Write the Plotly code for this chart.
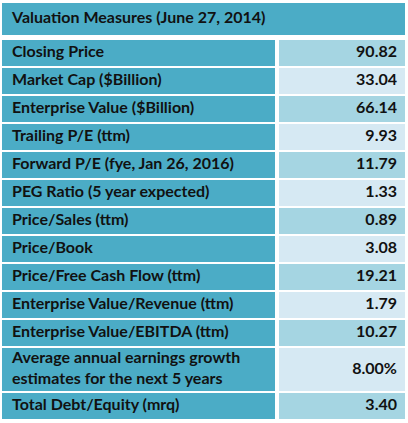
import plotly.graph_objects as go

title = "Valuation Measures (June 27, 2014)"
metrics = [
    "Closing Price",
    "Market Cap ($Billion)",
    "Enterprise Value ($Billion)",
    "Trailing P/E (ttm)",
    "Forward P/E (fye, Jan 26, 2016)",
    "PEG Ratio (5 year expected)",
    "Price/Sales (ttm)",
    "Price/Book",
    "Price/Free Cash Flow (ttm)",
    "Enterprise Value/Revenue (ttm)",
    "Enterprise Value/EBITDA (ttm)",
    "Average annual earnings growth<br>estimates for the next 5 years",
    "Total Debt/Equity (mrq)",
]
values = ["90.82", "33.04", "66.14", "9.93", "11.79", "1.33", "0.89",
          "3.08", "19.21", "1.79", "10.27", "8.00%", "3.40"]

# ---- styling / layout constants (pixel-like units) ----
TEAL = "#4BACC6"
BAND_A = "#A5D5E2"
BAND_B = "#D6E9F3"
FONT = "Lato"
TXT = "#111111"
FS = 16

TOTAL_W = 403
LEFT_W = 273
COL_GAP = 4
RIGHT_X0 = LEFT_W + COL_GAP
RIGHT_W = TOTAL_W - RIGHT_X0
HEADER_H = 32
HEADER_GAP = 5
ROW_GAP = 2
ONE_LINE_H = 26
EXTRA_LINE_H = 17
PAD_L = 10
PAD_R = 8

# row geometry derived from line counts
row_h = [ONE_LINE_H + EXTRA_LINE_H * m.count("<br>") for m in metrics]
row_top = []
y = HEADER_H + HEADER_GAP
for h in row_h:
    row_top.append(y)
    y += h + ROW_GAP
row_mid = [t + h / 2 for t, h in zip(row_top, row_h)]
right_fill = [BAND_A if i % 2 == 0 else BAND_B for i in range(len(values))]

fig = go.Figure()
# header band
fig.add_trace(go.Bar(
    orientation="h", y=[HEADER_H / 2], x=[TOTAL_W], base=[0], width=[HEADER_H],
    marker=dict(color=TEAL, line=dict(width=0)), hoverinfo="skip", showlegend=False,
))
# left column bands
fig.add_trace(go.Bar(
    orientation="h", y=row_mid, x=[LEFT_W] * len(metrics), base=[0] * len(metrics),
    width=row_h, marker=dict(color=TEAL, line=dict(width=0)),
    hoverinfo="skip", showlegend=False,
))
# right column bands
fig.add_trace(go.Bar(
    orientation="h", y=row_mid, x=[RIGHT_W] * len(values), base=[RIGHT_X0] * len(values),
    width=row_h, marker=dict(color=right_fill, line=dict(width=0)),
    hoverinfo="skip", showlegend=False,
))
# header text
fig.add_trace(go.Scatter(
    x=[PAD_L], y=[HEADER_H / 2], mode="text", text=["<b>" + title + "</b>"],
    textposition="middle right", textfont=dict(family=FONT, size=FS, color=TXT),
    hoverinfo="skip", showlegend=False,
))
# metric labels
fig.add_trace(go.Scatter(
    x=[PAD_L] * len(metrics), y=row_mid, mode="text",
    text=["<b>" + m + "</b>" for m in metrics],
    textposition="middle right", textfont=dict(family=FONT, size=FS, color=TXT),
    hoverinfo="skip", showlegend=False,
))
# values
fig.add_trace(go.Scatter(
    x=[TOTAL_W - PAD_R] * len(values), y=row_mid, mode="text",
    text=["<b>" + v + "</b>" for v in values],
    textposition="middle left", textfont=dict(family=FONT, size=FS, color=TXT),
    hoverinfo="skip", showlegend=False,
))

fig.update_layout(
    width=408, height=423,
    margin=dict(l=2, r=3, t=3, b=0),
    paper_bgcolor="white", plot_bgcolor="white",
    barmode="overlay", bargap=0,
    xaxis=dict(range=[0, TOTAL_W], visible=False, fixedrange=True),
    yaxis=dict(range=[420, 0], visible=False, fixedrange=True),
)
fig.write_html(
    "out.html",
    config={"displayModeBar": False},
    post_script="document.body.style.margin='0px';document.body.style.overflow='hidden';",
)
